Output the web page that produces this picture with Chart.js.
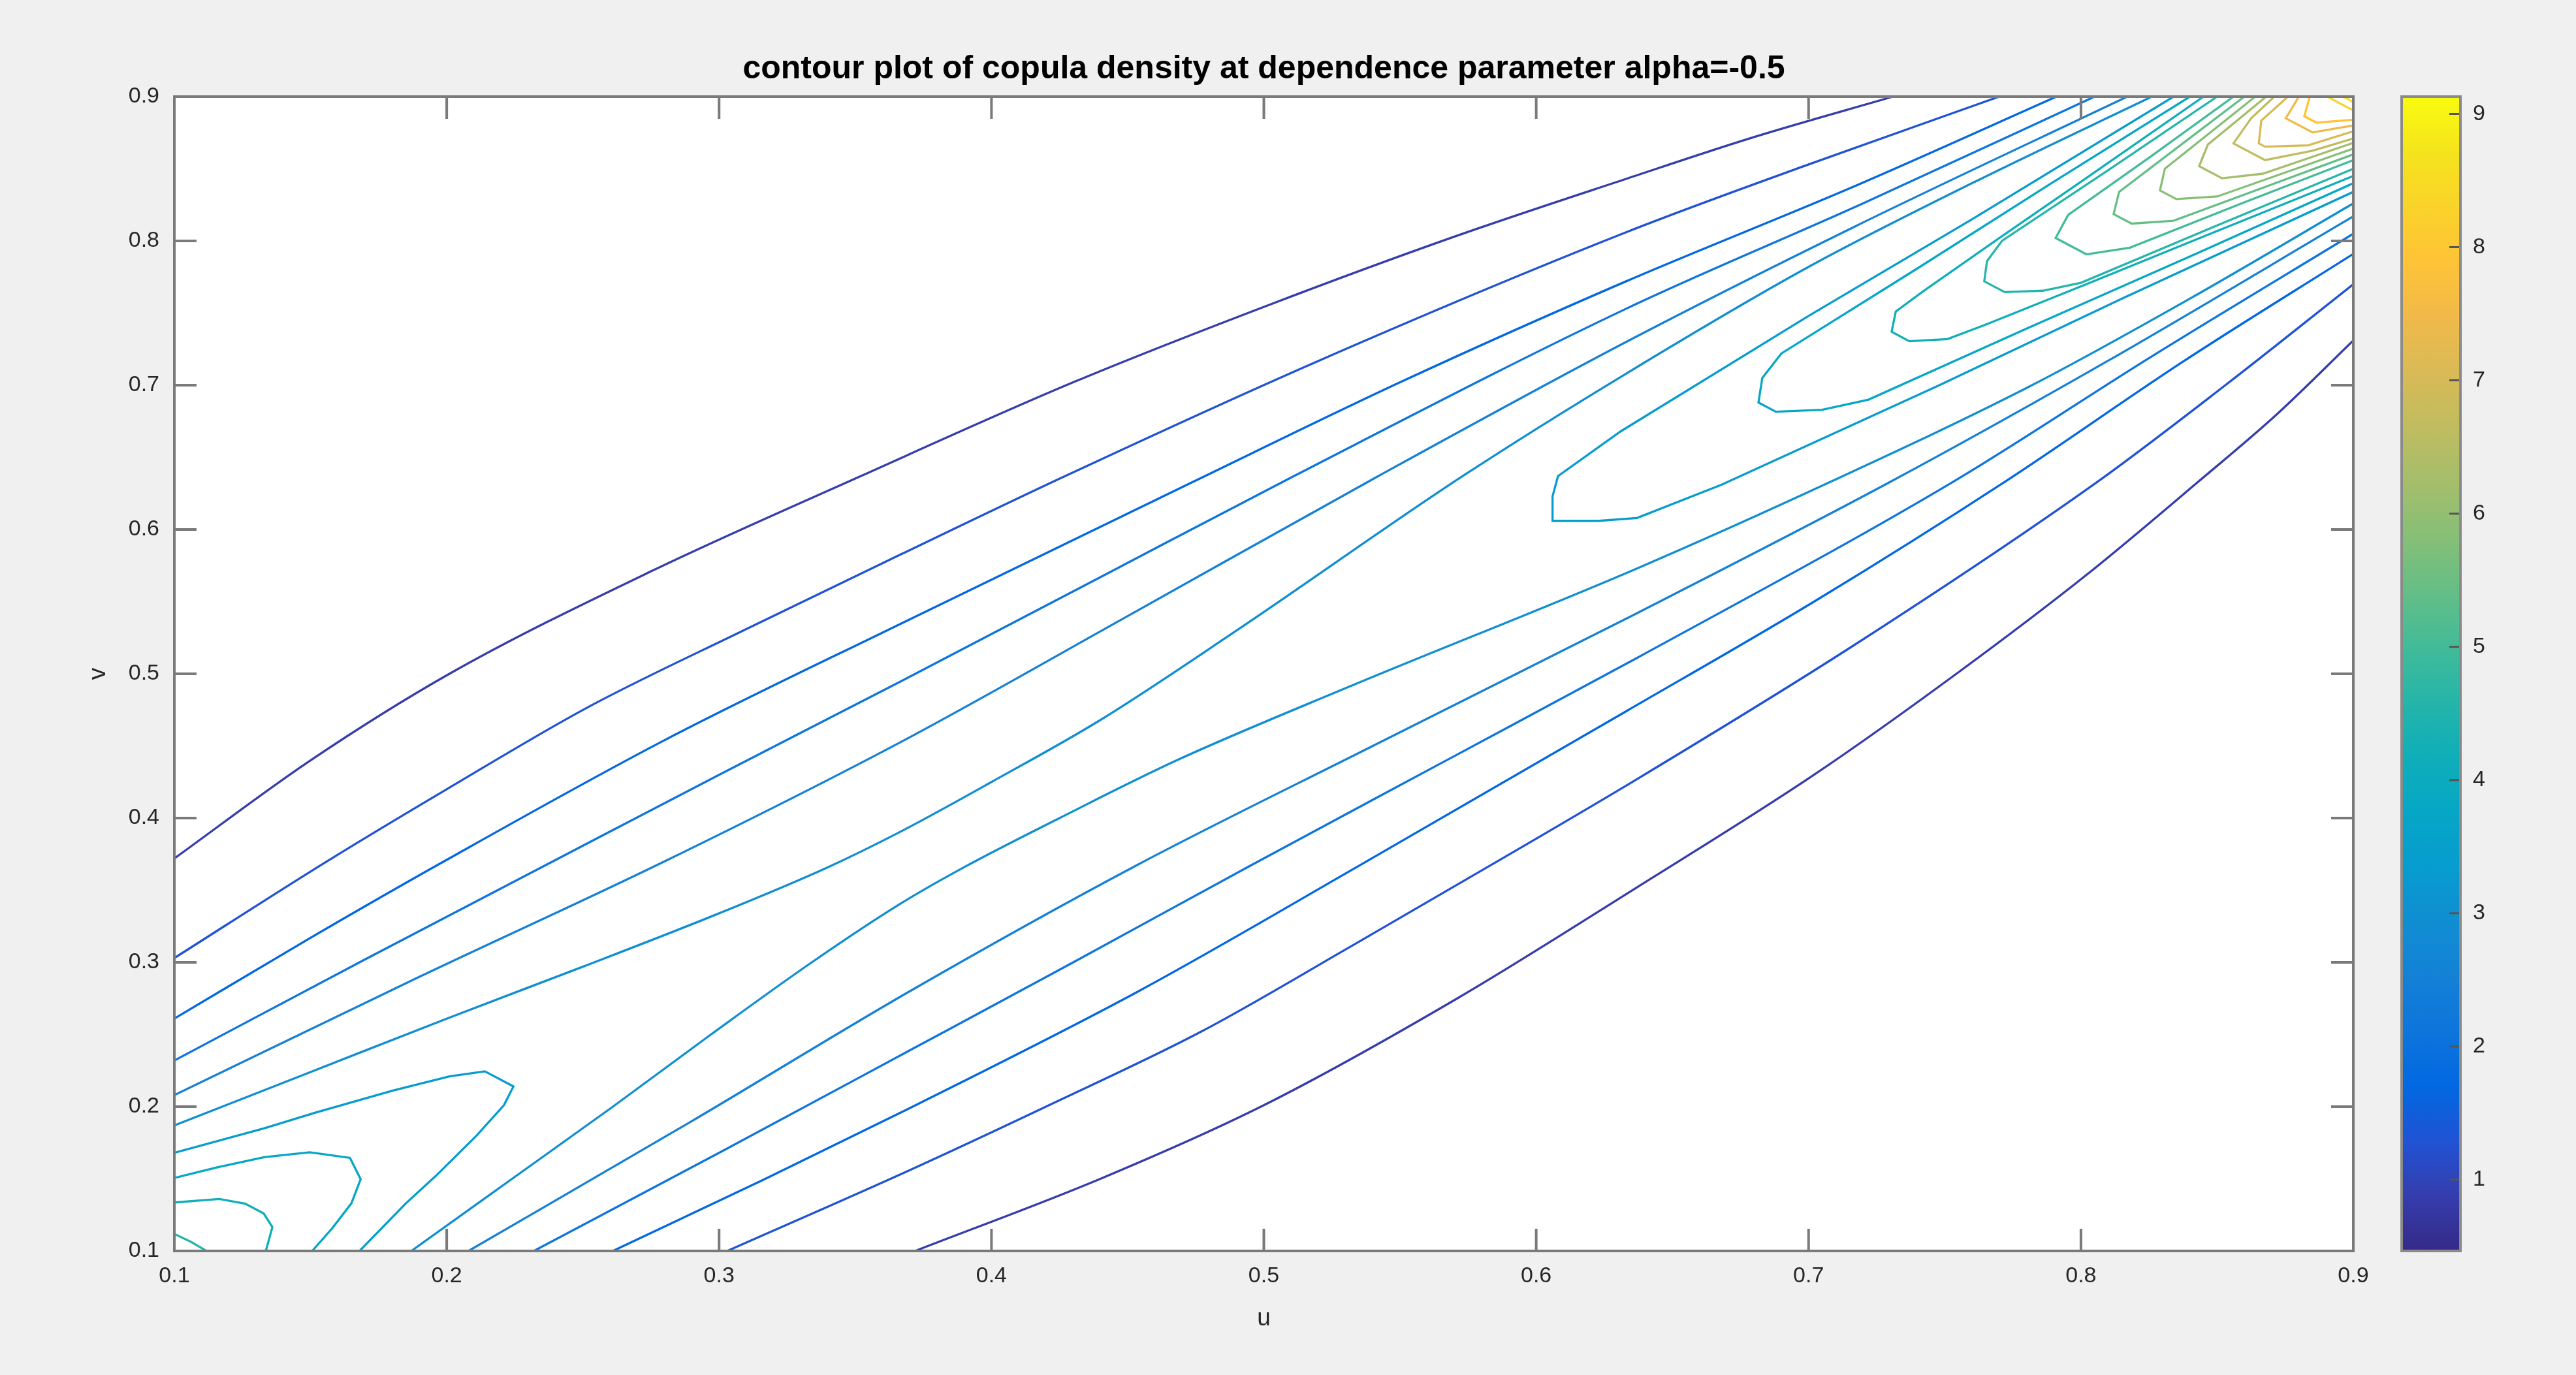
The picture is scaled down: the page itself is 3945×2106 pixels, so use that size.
<!DOCTYPE html>
<html>
<head>
<meta charset="utf-8">
<title>contour plot of copula density</title>
<script src="https://cdn.jsdelivr.net/npm/chart.js@4.4.1/dist/chart.umd.min.js"></script>
<style>
  html, body { margin: 0; padding: 0; background: #f0f0f0; }
  #wrap { position: relative; width: 3945px; height: 2106px; }
  #main { position: absolute; left: 0; top: 0; }
  #cbar { position: absolute; left: 3640px; top: 0; }
</style>
</head>
<body>
<div id="wrap">
  <canvas id="main" width="3945" height="2106"></canvas>
  <canvas id="cbar" width="305" height="2106"></canvas>
</div>
<script>
// axis ticks
const xTicks = [0.1, 0.2, 0.3, 0.4, 0.5, 0.6, 0.7, 0.8, 0.9];
const yTicks = [0.1, 0.2, 0.3, 0.4, 0.5, 0.6, 0.7, 0.8, 0.9];
const cbTicks = [1, 2, 3, 4, 5, 6, 7, 8, 9];
const cbMin = 0.465, cbMax = 9.13;

// contour levels (20 lines)
const levels = [0.88, 1.29, 1.70, 2.12, 2.53, 2.94, 3.35, 3.77, 4.18, 4.59,
                5.00, 5.42, 5.83, 6.24, 6.65, 7.07, 7.48, 7.89, 8.30, 8.72];

// contour lines, [u, v]
// levels 1-6: one branch above the ridge, one below
const lvl1Upper = [[0.100,0.372],[0.150,0.440],[0.201,0.500],[0.275,0.571],[0.352,0.637],[0.430,0.702],[0.501,0.755],[0.570,0.803],[0.633,0.843],[0.680,0.872],[0.731,0.900]];
const lvl1Lower = [[0.372,0.100],[0.440,0.150],[0.500,0.201],[0.571,0.275],[0.637,0.352],[0.702,0.430],[0.755,0.501],[0.803,0.570],[0.843,0.633],[0.872,0.680],[0.900,0.731]];
const lvl2Upper = [[0.100,0.303],[0.156,0.370],[0.200,0.420],[0.252,0.477],[0.310,0.531],[0.367,0.583],[0.427,0.637],[0.519,0.716],[0.633,0.806],[0.700,0.853],[0.770,0.900]];
const lvl2Lower = [[0.303,0.100],[0.370,0.156],[0.420,0.200],[0.477,0.252],[0.531,0.310],[0.583,0.367],[0.637,0.427],[0.716,0.519],[0.806,0.633],[0.853,0.700],[0.900,0.770]];
const lvl3Upper = [[0.100,0.261],[0.150,0.317],[0.199,0.370],[0.280,0.454],[0.367,0.535],[0.474,0.633],[0.550,0.702],[0.633,0.772],[0.717,0.838],[0.791,0.900]];
const lvl3Lower = [[0.261,0.100],[0.317,0.150],[0.370,0.199],[0.454,0.280],[0.535,0.367],[0.633,0.474],[0.702,0.550],[0.772,0.633],[0.838,0.717],[0.900,0.791]];
const lvl4Upper = [[0.100,0.232],[0.170,0.302],[0.239,0.370],[0.300,0.430],[0.367,0.495],[0.440,0.567],[0.511,0.637],[0.633,0.753],[0.720,0.826],[0.805,0.900]];
const lvl4Lower = [[0.232,0.100],[0.302,0.170],[0.370,0.239],[0.430,0.300],[0.495,0.367],[0.567,0.440],[0.637,0.511],[0.753,0.633],[0.826,0.720],[0.900,0.805]];
const lvl5Upper = [[0.100,0.208],[0.190,0.290],[0.280,0.370],[0.367,0.453],[0.450,0.540],[0.542,0.637],[0.633,0.730],[0.717,0.810],[0.817,0.900]];
const lvl5Lower = [[0.208,0.100],[0.290,0.190],[0.370,0.280],[0.453,0.367],[0.540,0.450],[0.637,0.542],[0.730,0.633],[0.810,0.717],[0.900,0.817]];
const lvl6Upper = [[0.100,0.187],[0.150,0.224],[0.200,0.261],[0.250,0.297],[0.300,0.334],[0.340,0.366],[0.366,0.390],[0.400,0.425],[0.440,0.468],[0.490,0.530],[0.573,0.637],[0.633,0.708],[0.700,0.782],[0.760,0.840],[0.826,0.900]];
const lvl6Lower = [[0.187,0.100],[0.224,0.150],[0.261,0.200],[0.297,0.250],[0.334,0.300],[0.366,0.340],[0.390,0.366],[0.425,0.400],[0.468,0.440],[0.530,0.490],[0.637,0.573],[0.708,0.633],[0.782,0.700],[0.840,0.760],[0.900,0.826]];

// levels 7-10: closed around the low corner (0.1, 0.1)
const lvl7Low = [[0.100,0.168],[0.133,0.185],[0.152,0.196],[0.180,0.211],[0.201,0.221],[0.214,0.2245],[0.2245,0.214],[0.221,0.201],[0.211,0.180],[0.196,0.152],[0.185,0.133],[0.168,0.100]];
const lvl8Low = [[0.100,0.1506],[0.1158,0.158],[0.133,0.165],[0.1497,0.1684],[0.1645,0.1645],[0.1684,0.1497],[0.165,0.133],[0.158,0.1158],[0.1506,0.100]];
const lvl9Low = [[0.100,0.1336],[0.1165,0.136],[0.126,0.1328],[0.1328,0.126],[0.136,0.1165],[0.1336,0.100]];
const lvl10Low = [[0.100,0.1118],[0.1062,0.1062],[0.1118,0.100]];

// levels 7-20: closed around the high corner (0.9, 0.9)
const lvl7High = [[0.834,0.900],[0.760,0.815],[0.700,0.748],[0.631,0.668],[0.608,0.637],[0.606,0.623],[0.606,0.606],[0.623,0.606],[0.637,0.608],[0.668,0.631],[0.748,0.700],[0.815,0.760],[0.900,0.834]];
const lvl8High = [[0.840,0.900],[0.790,0.841],[0.740,0.781],[0.690,0.722],[0.683,0.705],[0.6816,0.688],[0.688,0.6816],[0.705,0.683],[0.722,0.690],[0.781,0.740],[0.841,0.790],[0.900,0.840]];
const lvl9High = [[0.845,0.900],[0.800,0.841],[0.770,0.802],[0.742,0.765],[0.732,0.751],[0.7305,0.737],[0.737,0.7305],[0.751,0.732],[0.765,0.742],[0.802,0.770],[0.841,0.800],[0.900,0.845]];
const lvl10High = [[0.850,0.900],[0.810,0.849],[0.771,0.800],[0.7655,0.786],[0.7645,0.772],[0.772,0.7645],[0.786,0.7655],[0.800,0.771],[0.849,0.810],[0.900,0.850]];
const lvl11High = [[0.856,0.900],[0.826,0.859],[0.7953,0.818],[0.7907,0.802],[0.802,0.7907],[0.818,0.7953],[0.859,0.826],[0.900,0.856]];
const lvl12High = [[0.860,0.900],[0.837,0.867],[0.814,0.834],[0.812,0.8186],[0.8186,0.812],[0.834,0.814],[0.867,0.837],[0.900,0.860]];
const lvl13High = [[0.864,0.900],[0.8308,0.850],[0.829,0.835],[0.835,0.829],[0.850,0.8308],[0.900,0.864]];
const lvl14High = [[0.868,0.900],[0.8466,0.8668],[0.8434,0.8518],[0.8518,0.8434],[0.8668,0.8466],[0.900,0.868]];
const lvl15High = [[0.871,0.900],[0.8625,0.885],[0.856,0.8676],[0.8676,0.856],[0.885,0.8625],[0.900,0.871]];
const lvl16High = [[0.876,0.900],[0.8662,0.8834],[0.8653,0.8676],[0.8676,0.8653],[0.8834,0.8662],[0.900,0.876]];
const lvl17High = [[0.880,0.900],[0.8752,0.885],[0.885,0.8752],[0.900,0.880]];
const lvl18High = [[0.884,0.900],[0.882,0.8864],[0.8864,0.882],[0.900,0.884]];
const lvl19High = [[0.8905,0.900],[0.8952,0.8952],[0.900,0.8905]];
const lvl20High = [[0.8960,0.900],[0.8982,0.8982],[0.900,0.8960]];

// [level index, line, smooth?]
const pieces = [
  [0, lvl1Upper, true], [0, lvl1Lower, true], [1, lvl2Upper, true], [1, lvl2Lower, true],
  [2, lvl3Upper, true], [2, lvl3Lower, true], [3, lvl4Upper, true], [3, lvl4Lower, true],
  [4, lvl5Upper, true], [4, lvl5Lower, true], [5, lvl6Upper, true], [5, lvl6Lower, true],
  [6, lvl7Low], [7, lvl8Low], [8, lvl9Low], [9, lvl10Low],
  [6, lvl7High], [7, lvl8High], [8, lvl9High], [9, lvl10High],
  [10, lvl11High], [11, lvl12High], [12, lvl13High], [13, lvl14High],
  [14, lvl15High], [15, lvl16High], [16, lvl17High], [17, lvl18High],
  [18, lvl19High], [19, lvl20High]
];

// parula colormap, sampled every 3rd of 64 entries
const parula = [
  [0.2081,0.1663,0.5292],[0.2081,0.2386,0.6771],[0.1253,0.3242,0.8303],[0.0060,0.4086,0.8828],
  [0.0498,0.4586,0.8641],[0.0779,0.5040,0.8384],[0.0641,0.5570,0.8240],[0.0265,0.6137,0.8135],
  [0.0228,0.6535,0.7768],[0.0590,0.6838,0.7254],[0.1453,0.7098,0.6646],[0.2586,0.7317,0.5954],
  [0.3953,0.7459,0.5244],[0.5300,0.7491,0.4661],[0.6473,0.7456,0.4188],[0.7525,0.7384,0.3768],
  [0.8507,0.7299,0.3360],[0.9450,0.7261,0.2886],[0.9990,0.7653,0.2164],[0.9789,0.8271,0.1633],
  [0.9589,0.8949,0.1132],[0.9763,0.9831,0.0538]
];
function rgb(c) {
  return 'rgb(' + c.map(x => Math.round(x * 255)).join(',') + ')';
}
function levelColor(val) {
  let t = (val - cbMin) / (cbMax - cbMin);
  t = Math.min(1, Math.max(0, t)) * (parula.length - 1);
  const i = Math.min(Math.floor(t), parula.length - 2);
  const f = t - i;
  return rgb(parula[i].map((a, j) => a + (parula[i + 1][j] - a) * f));
}

Chart.defaults.font.family = '"Liberation Sans", Arial, Helvetica, sans-serif';
Chart.defaults.color = '#262626';

// white plot area, box and inward ticks like MATLAB
const plotBox = {
  id: 'plotBox',
  beforeDraw(chart) {
    const a = chart.chartArea;
    chart.ctx.save();
    chart.ctx.fillStyle = '#ffffff';
    chart.ctx.fillRect(a.left, a.top, a.width, a.height);
    chart.ctx.restore();
  },
  afterDraw(chart) {
    const {ctx, chartArea: a, scales: {x, y}} = chart;
    const len = 34;
    ctx.save();
    ctx.strokeStyle = '#7a7a7a';
    ctx.lineWidth = 4;
    ctx.beginPath();
    xTicks.forEach(v => {
      const px = x.getPixelForValue(v);
      ctx.moveTo(px, a.bottom); ctx.lineTo(px, a.bottom - len);
      ctx.moveTo(px, a.top); ctx.lineTo(px, a.top + len);
    });
    yTicks.forEach(v => {
      const py = y.getPixelForValue(v);
      ctx.moveTo(a.left, py); ctx.lineTo(a.left + len, py);
      ctx.moveTo(a.right, py); ctx.lineTo(a.right - len, py);
    });
    ctx.stroke();
    ctx.strokeRect(a.left, a.top, a.width, a.height);
    ctx.restore();
  }
};

new Chart(document.getElementById('main'), {
  type: 'scatter',
  data: {
    datasets: pieces.map(([k, pts, smooth]) => ({
      data: pts.map(([u, v]) => ({x: u, y: v})),
      showLine: true,
      borderColor: levelColor(levels[k]),
      borderWidth: 3.3,
      pointRadius: 0,
      fill: false,
      cubicInterpolationMode: smooth ? 'monotone' : 'default',
      tension: 0
    }))
  },
  options: {
    responsive: false,
    animation: false,
    layout: { padding: { left: 100, right: 341, top: 0, bottom: 40 } },
    plugins: {
      legend: { display: false },
      tooltip: { enabled: false },
      title: {
        display: true,
        fullSize: false,
        text: 'contour plot of copula density at dependence parameter alpha=-0.5',
        color: '#000000',
        font: { size: 50, weight: 'bold' },
        padding: { top: 76, bottom: 12 }
      }
    },
    scales: {
      x: {
        type: 'linear', min: 0.1, max: 0.9,
        afterBuildTicks: s => { s.ticks = xTicks.map(v => ({value: v})); },
        afterFit: s => { s.height = 150; },
        grid: { display: false, drawTicks: false },
        border: { display: false },
        ticks: { padding: 18, font: { size: 34 }, autoSkip: false, maxRotation: 0,
                 callback: v => v.toFixed(1) },
        title: { display: true, text: 'u', font: { size: 37 }, padding: { top: 0, bottom: 24 } }
      },
      y: {
        type: 'linear', min: 0.1, max: 0.9,
        afterBuildTicks: s => { s.ticks = yTicks.map(v => ({value: v})); },
        afterFit: s => { s.width = 167; },
        grid: { display: false, drawTicks: false },
        border: { display: false },
        ticks: { padding: 23, font: { size: 34 }, autoSkip: false,
                 callback: v => v.toFixed(1) },
        title: { display: true, text: 'v', font: { size: 37 }, padding: { top: 29, bottom: 0 } }
      }
    }
  },
  plugins: [plotBox]
});

// colorbar
const cbFrame = {
  id: 'cbFrame',
  afterDraw(chart) {
    const {ctx, chartArea: a, scales: {y}} = chart;
    ctx.save();
    ctx.strokeStyle = '#555555';
    ctx.lineWidth = 3;
    ctx.beginPath();
    cbTicks.forEach(v => {
      const py = y.getPixelForValue(v);
      ctx.moveTo(a.right, py); ctx.lineTo(a.right - 17, py);
    });
    ctx.stroke();
    ctx.strokeStyle = '#8a8a8a';
    ctx.lineWidth = 4;
    ctx.strokeRect(a.left, a.top, a.width, a.height);
    ctx.restore();
  }
};

new Chart(document.getElementById('cbar'), {
  type: 'bar',
  data: {
    labels: [''],
    datasets: [{
      data: [[cbMin, cbMax]],
      barPercentage: 1,
      categoryPercentage: 1,
      borderWidth: 0,
      backgroundColor(ctx) {
        const a = ctx.chart.chartArea;
        if (!a) return levelColor((cbMin + cbMax) / 2);
        const g = ctx.chart.ctx.createLinearGradient(0, a.bottom, 0, a.top);
        parula.forEach((c, i) => g.addColorStop(i / (parula.length - 1), rgb(c)));
        return g;
      }
    }]
  },
  options: {
    responsive: false,
    animation: false,
    layout: { padding: { left: 38, right: 0, top: 148, bottom: 190 } },
    plugins: { legend: { display: false }, tooltip: { enabled: false } },
    scales: {
      x: { display: false },
      y: {
        position: 'right', min: cbMin, max: cbMax,
        afterBuildTicks: s => { s.ticks = cbTicks.map(v => ({value: v})); },
        afterFit: s => { s.width = 177; },
        grid: { display: false, drawTicks: false },
        border: { display: false },
        ticks: { padding: 19, font: { size: 34 } }
      }
    }
  },
  plugins: [cbFrame]
});
</script>
</body>
</html>
